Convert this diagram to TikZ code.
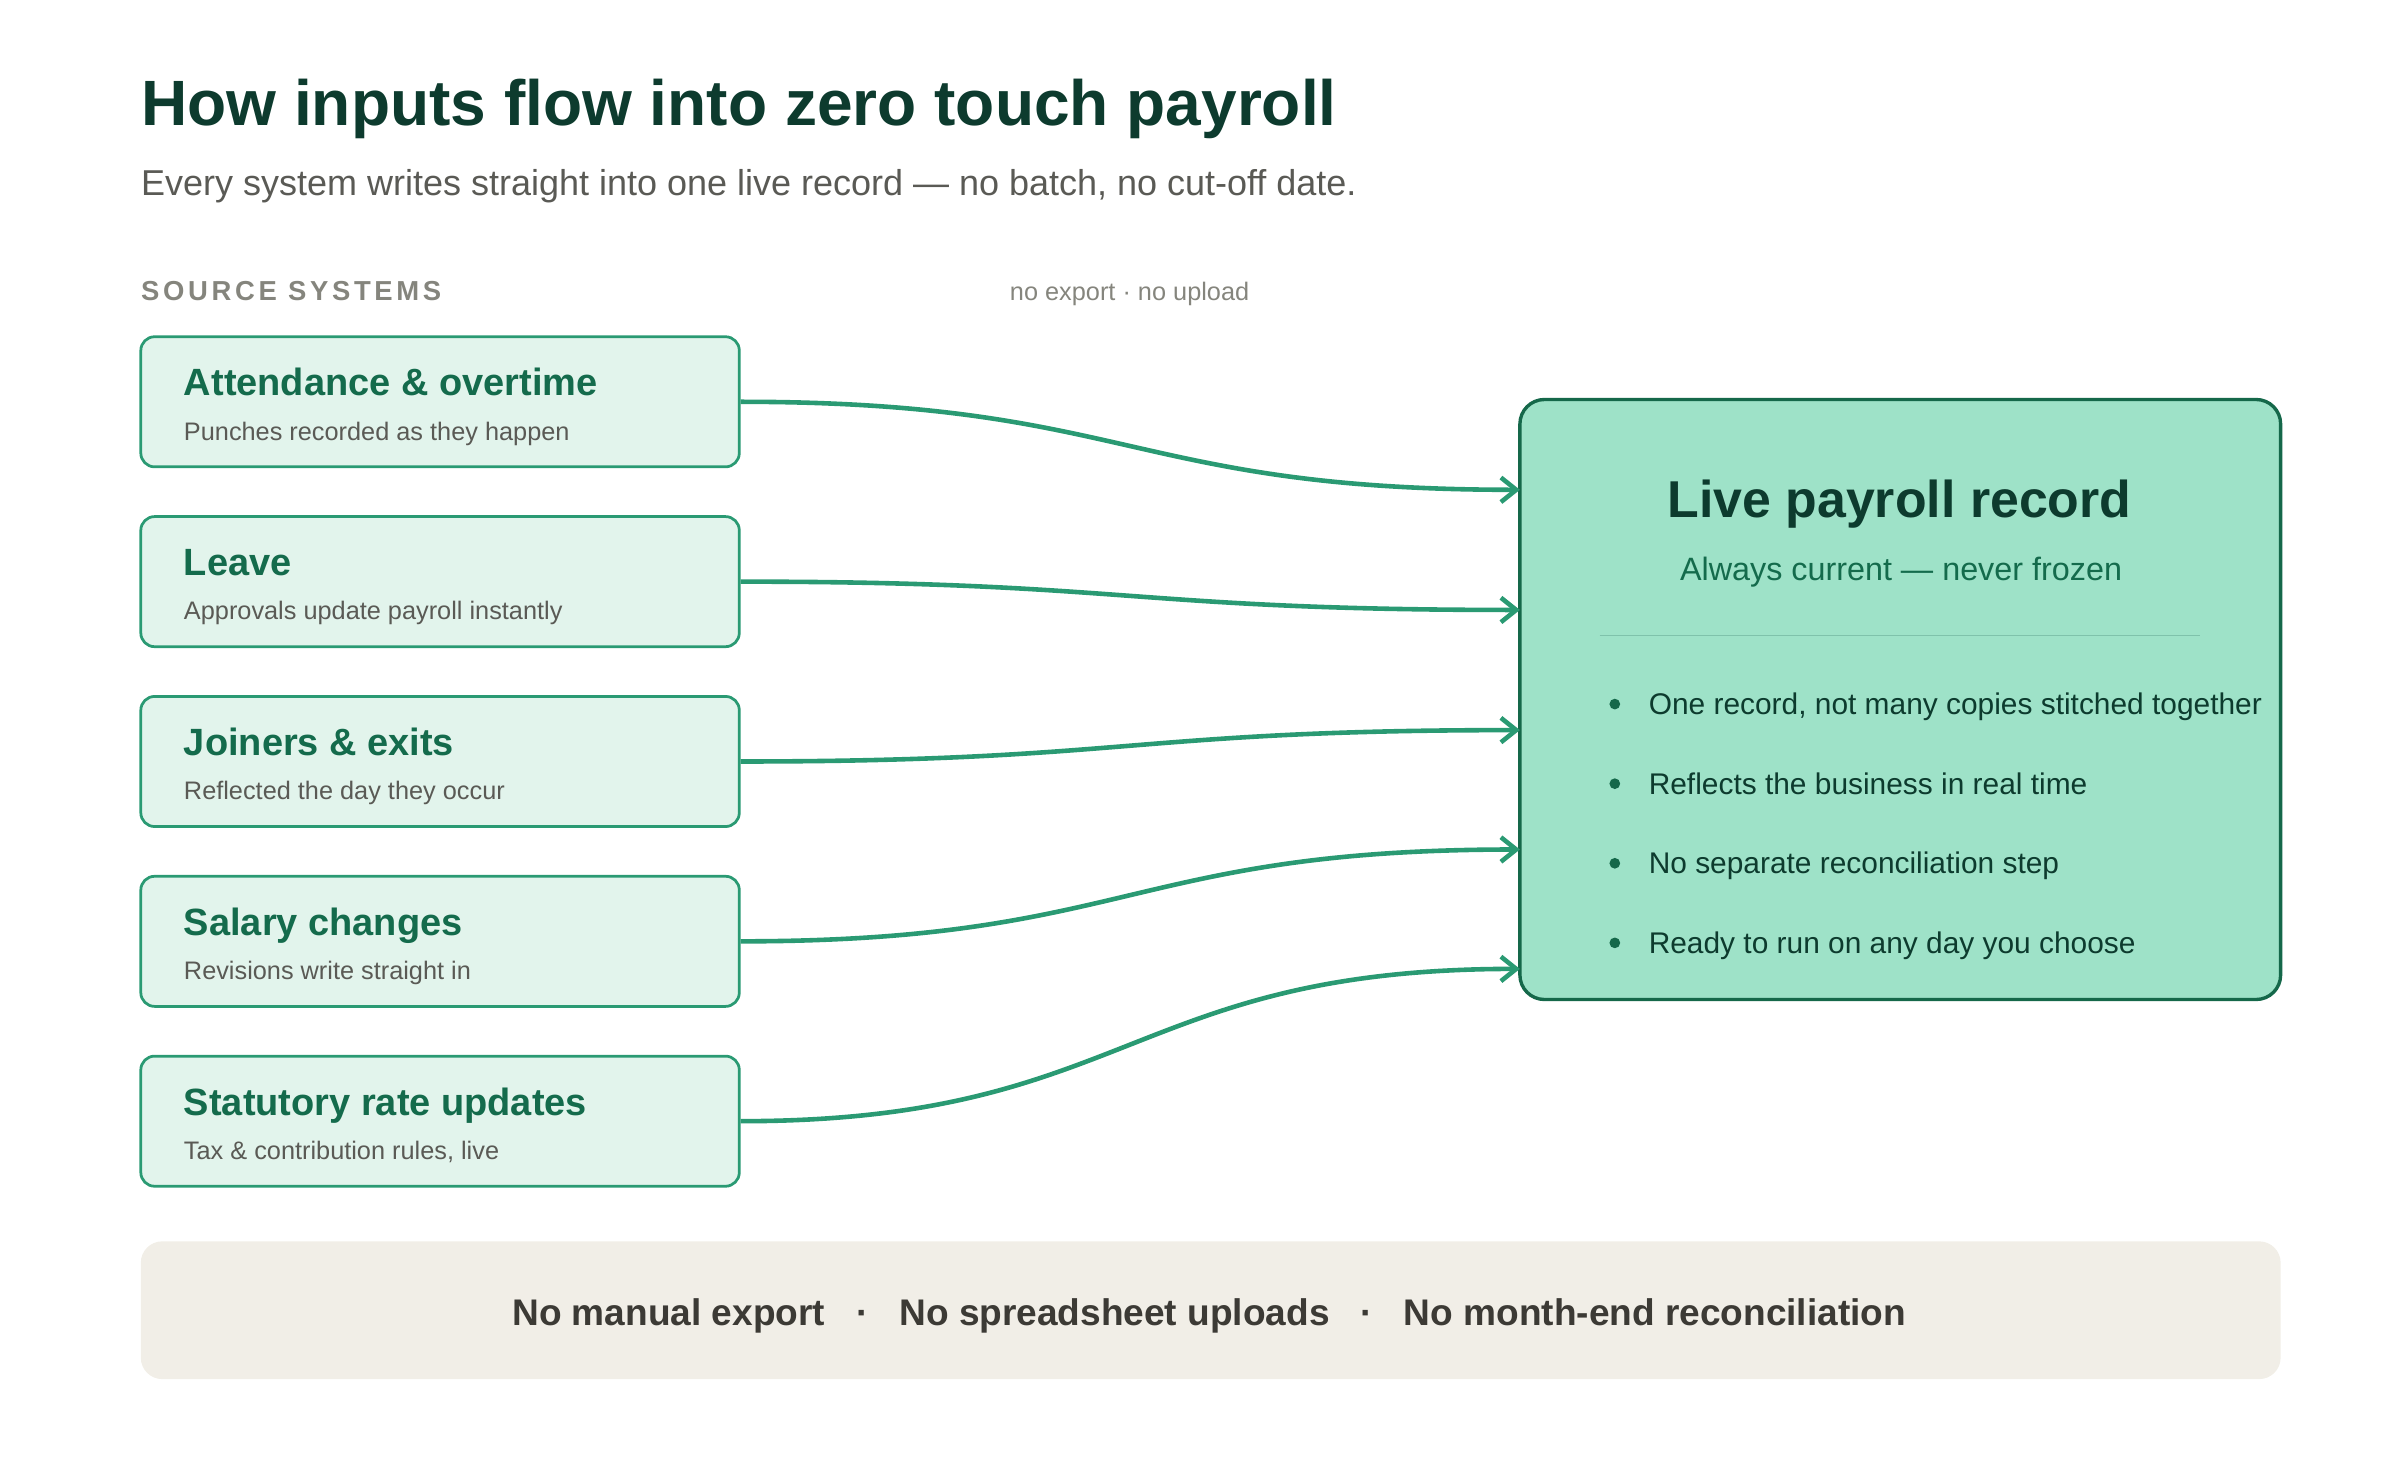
\documentclass[tikz,border=0pt]{standalone}
\usepackage{fontspec}
\setmainfont{Liberation Sans}
\usetikzlibrary{arrows.meta}
\definecolor{boxfill}{HTML}{E2F4EC}
\definecolor{boxline}{HTML}{2A9A73}
\definecolor{boxtitle}{HTML}{146B4C}
\definecolor{bigfill}{HTML}{9EE2C8}
\definecolor{bigline}{HTML}{15684A}
\definecolor{dark}{HTML}{0D3B2E}
\definecolor{greytxt}{HTML}{5A5A55}
\definecolor{label}{HTML}{85857D}
\definecolor{band}{HTML}{F1EEE7}
\definecolor{bandtxt}{HTML}{3C3A35}
\tikzset{
 src/.style={draw=boxline,fill=boxfill,line width=1.8bp,rounded corners=9bp,minimum width=391bp,minimum height=85bp,inner sep=0pt},
 stitle/.style={anchor=base west,font=\fontsize{24.9}{28}\selectfont\bfseries,text=boxtitle},
 ssub/.style={anchor=base west,font=\fontsize{16.6}{19}\selectfont,text=greytxt},
 flow/.style={draw=boxline,line width=3bp,-{Straight Barb[length=10bp,width=16bp,line width=3bp]}},
 bul/.style={anchor=base west,font=\fontsize{19.6}{22}\selectfont,text=dark},
 dot/.style={circle,fill=bigline,inner sep=0pt,minimum size=7bp},
}
\begin{document}
\begin{tikzpicture}[x=1bp,y=-1bp]
\useasboundingbox (0,0) rectangle (1568,954);
\node[anchor=base west,inner sep=0pt,font=\fontsize{42}{48}\selectfont\bfseries,text=dark] (title) at (92,82) {How inputs flow into zero touch payroll};
\node[anchor=base west,inner sep=0pt,font=\fontsize{23.6}{28}\selectfont,text=greytxt] (subtitle) at (92,128) {Every system writes straight into one live record — no batch, no cut-off date.};
\node[anchor=base west,inner sep=0pt,font=\fontsize{18}{22}\selectfont\bfseries,text=label] (srclab) at (92,196) {S\kern2.4pt O\kern2.4pt U\kern2.4pt R\kern2.4pt C\kern2.4pt E\kern2.4pt\ S\kern2.4pt Y\kern2.4pt S\kern2.4pt T\kern2.4pt E\kern2.4pt M\kern2.4pt S};
\node[anchor=base,font=\fontsize{16.6}{19}\selectfont,text=label] (noexp) at (738,196) {no export · no upload};
\foreach \n/\y/\t/\s in {a/262.5/Attendance \& overtime/Punches recorded as they happen,
 b/380/Leave/Approvals update payroll instantly,
 c/497.5/Joiners \& exits/Reflected the day they occur,
 d/615/Salary changes/Revisions write straight in,
 e/732.5/Statutory rate updates/{Tax \& contribution rules, live}}{
 \node[src] (\n) at (287.5,\y) {};
 \node[stitle,inner sep=0pt] (\n t) at (120,\y-4) {\t};
 \node[ssub,inner sep=0pt] (\n s) at (120,\y+25) {\s};
}
\node[draw=bigline,fill=bigfill,line width=2.2bp,rounded corners=16bp,minimum width=497bp,minimum height=392bp,inner sep=0pt] (live) at (1241.5,457) {};
\node[anchor=base,font=\fontsize{34}{40}\selectfont\bfseries,text=dark] (livet) at (1241,338) {Live payroll record};
\node[anchor=base,font=\fontsize{21.2}{24}\selectfont,text=boxtitle] (lives) at (1242,379) {Always current — never frozen};
\coordinate (d1) at (1045,415); \coordinate (d2) at (1437,415);
\draw[draw=boxline!60,line width=0.8bp] (d1) -- (d2);
\foreach \i/\y/\t in {1/460/{One record, not many copies stitched together},2/512/Reflects the business in real time,3/564/No separate reconciliation step,4/616/Ready to run on any day you choose}{
 \node[dot] (dot\i) at (1055,\y) {};
 \node[bul,inner sep=0pt] (b\i) at (1077,\y+7) {\t};
}
\foreach \n/\ys/\y in {a/262.5/320,b/380/398.5,c/497.5/477,d/615/555,e/732.5/633}{
 \coordinate (t\n) at (993,\y);
 \draw[flow] (\n.east) .. controls (738,\ys) and (738,\y) .. (t\n);
}
\node[fill=band,rounded corners=14bp,minimum width=1398bp,minimum height=90bp,inner sep=0pt] (bandbox) at (791,856) {};
\node[anchor=base,font=\fontsize{24.3}{28}\selectfont\bfseries,text=bandtxt] (bandt) at (790,866) {No manual export \ \ ·\ \ \ No spreadsheet uploads \ \ ·\ \ \ No month-end reconciliation};
\end{tikzpicture}
\end{document}
